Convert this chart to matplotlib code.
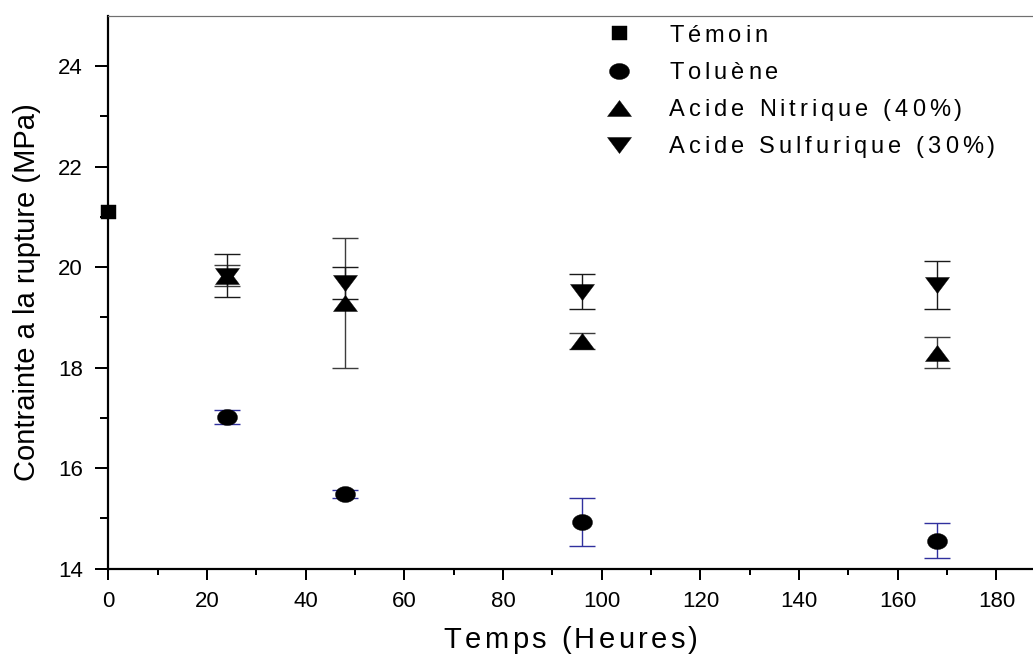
import numpy as np
import matplotlib
matplotlib.use("Agg")
import matplotlib.pyplot as plt
from matplotlib.path import Path
from matplotlib.text import Text
from matplotlib.transforms import IdentityTransform
from matplotlib import font_manager

plt.rcParams['font.family'] = ['Liberation Sans', 'DejaVu Sans']

# Durée d'immersion (heures)
temps_temoin = [0]
temps = [24, 48, 96, 168]

# Contrainte à la rupture (MPa) et écarts-types
temoin = [21.1]
toluene = [17.02, 15.49, 14.93, 14.56]
toluene_err = [0.14, 0.08, 0.48, 0.35]
nitrique = [19.83, 19.28, 18.53, 18.30]
nitrique_err = [0.21, 1.29, 0.15, 0.30]
sulfurique = [19.83, 19.69, 19.51, 19.64]
sulfurique_err = [0.42, 0.32, 0.35, 0.48]

labels = ["Témoin", "Toluène", "Acide Nitrique (40%)", "Acide Sulfurique (30%)"]
x_ticks = [0, 20, 40, 60, 80, 100, 120, 140, 160, 180]
y_ticks = [14, 16, 18, 20, 22, 24]


class SpacedText(Text):
    """Text drawn with extra tracking (letter spacing) between glyphs."""
    spacing_px = 0.0

    def draw(self, renderer):
        s = self.get_text()
        if not self.get_visible() or not s:
            return
        prop = self.get_fontproperties()
        bbox = Text.get_window_extent(self, renderer)
        _, _, d1 = renderer.get_text_width_height_descent(s, prop, ismath=False)
        _, _, d2 = renderer.get_text_width_height_descent("lp", prop, ismath=False)
        base_y = bbox.y0 + max(d1, d2)

        font = font_manager.get_font(font_manager.findfont(prop))
        font.set_size(prop.get_size_in_points(), renderer.dpi)
        adv = []
        for c in s:
            g = font.load_char(ord(c))
            adv.append(g.linearHoriAdvance / 65536.0)
        total = sum(adv) + self.spacing_px * (len(s) - 1)

        ha = self.get_horizontalalignment()
        if ha == "left":
            x = bbox.x0
        elif ha == "right":
            x = bbox.x1 - total
        else:
            x = 0.5 * (bbox.x0 + bbox.x1) - 0.5 * total

        for c, w in zip(s, adv):
            if not c.isspace():
                t = Text(x, base_y, c, fontproperties=prop, color=self.get_color(),
                         ha="left", va="baseline", transform=IdentityTransform())
                t.set_figure(self.get_figure())
                t.draw(renderer)
            x += w + self.spacing_px


def track(text_artist, spacing_px):
    text_artist.__class__ = SpacedText
    text_artist.spacing_px = spacing_px


def marker_path(kind):
    """Slightly widened marker shapes."""
    if kind == "square":
        v = [(-1, -0.87), (1, -0.87), (1, 0.87), (-1, 0.87), (-1, -0.87)]
        return Path(v, closed=True)
    if kind == "ellipse":
        t = np.linspace(0, 2 * np.pi, 60)
        return Path(np.column_stack([np.cos(t), 0.8 * np.sin(t)]), closed=True)
    if kind == "up":
        v = [(-1, -0.667), (1, -0.667), (0, 0.667), (-1, -0.667)]
        return Path(v, closed=True)
    if kind == "down":
        v = [(-1, 0.667), (1, 0.667), (0, -0.667), (-1, 0.667)]
        return Path(v, closed=True)


fig = plt.figure(figsize=(10.33, 6.57), dpi=100)
ax = fig.add_axes([108.3 / 1033, 88.3 / 657, (1033 - 108.3) / 1033, 553 / 657])

px = 0.72  # points per pixel at 100 dpi
cap = 13.5 * px
elw = 1.0

ax.errorbar(temps, toluene, yerr=toluene_err, fmt="none", ecolor="#30309e",
            elinewidth=elw, capsize=cap, capthick=elw, zorder=2)
ax.errorbar(temps, nitrique, yerr=nitrique_err, fmt="none", ecolor="#3c3c3c",
            elinewidth=elw, capsize=cap, capthick=elw, zorder=2)
ax.errorbar(temps, sulfurique, yerr=sulfurique_err, fmt="none", ecolor="#1a1a1a",
            elinewidth=elw, capsize=cap, capthick=elw, zorder=2)

h1, = ax.plot(temps_temoin, temoin, ls="none", marker=marker_path("square"),
              ms=15 * px, color="black", mew=0.3, clip_on=False, zorder=4)
h2, = ax.plot(temps, toluene, ls="none", marker=marker_path("ellipse"),
              ms=20 * px, color="black", mew=0.3, zorder=4)
h3, = ax.plot(temps, nitrique, ls="none", marker=marker_path("up"),
              ms=24 * px, color="black", mew=0.3, zorder=4)
h4, = ax.plot(temps, sulfurique, ls="none", marker=marker_path("down"),
              ms=24 * px, color="black", mew=0.3, zorder=4)

ax.set_xlim(0, 187.4)
ax.set_ylim(14, 25)
ax.set_xticks(x_ticks)
ax.set_yticks(y_ticks)
ax.set_xticks(np.arange(10, 190, 20), minor=True)
ax.set_yticks(np.arange(15, 25, 2), minor=True)

for side in ("left", "bottom"):
    ax.spines[side].set_linewidth(2.2 * px)
    ax.spines[side].set_color("black")
ax.spines["top"].set_linewidth(1.2 * px)
ax.spines["top"].set_color("#707070")
ax.spines["right"].set_visible(False)

ax.tick_params(axis="y", which="major", direction="out", length=13 * px,
               width=2 * px, pad=9, labelsize=16)
ax.tick_params(axis="y", which="minor", direction="out", length=8 * px, width=2 * px)
ax.tick_params(axis="x", which="major", direction="out", length=11 * px,
               width=2 * px, pad=8, labelsize=16)
ax.tick_params(axis="x", which="minor", direction="out", length=6 * px, width=2 * px)

ax.set_xlabel("Temps (Heures)", fontsize=21, labelpad=10)
ax.set_ylabel("Contrainte a la rupture (MPa)", fontsize=21, labelpad=12)
track(ax.xaxis.label, 3.4)

leg = ax.legend([h1, h2, h3, h4], labels, loc="upper left",
                bbox_to_anchor=((602.5 - 108.3) / 924.7, 0.984),
                frameon=False, fontsize=17, handlelength=1.37, handletextpad=1.45,
                labelspacing=0.645, borderpad=0, borderaxespad=0)
for t in leg.get_texts():
    track(t, 4.0)

fig.savefig("out.png", dpi=100)
